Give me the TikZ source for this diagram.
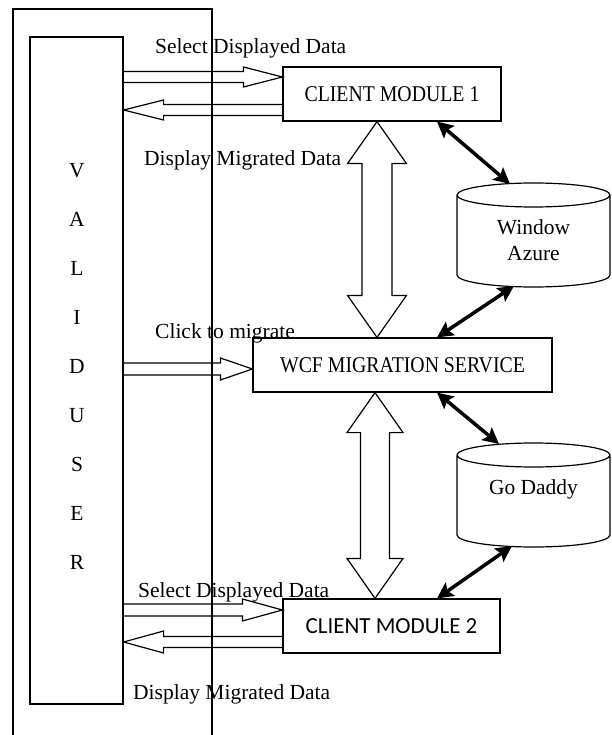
\documentclass[tikz,border=0pt]{standalone}
\usepackage{fontspec}
\setmainfont{Liberation Serif}
\newfontfamily\calib{Carlito}
\newfontfamily\camb[FakeStretch=0.88]{Liberation Serif}
\usetikzlibrary{calc,arrows.meta}

% hollow single block arrow: #1 start, #2 tip, #3 shaft half width, #4 head half width, #5 head length
\newcommand\blockarrow[5]{%
  \coordinate (bab) at ($(#2)!#5!(#1)$);
  \draw[blk] ($(#1)!#3!90:(#2)$) -- ($(bab)!#3!90:(#2)$) -- ($(bab)!#4!90:(#2)$) -- (#2)
     -- ($(bab)!#4!-90:(#2)$) -- ($(bab)!#3!-90:(#2)$) -- ($(#1)!#3!-90:(#2)$);
}
% hollow double block arrow: #1 tip A, #2 tip B, #3 shaft half, #4 head half, #5 head length
\newcommand\dblockarrow[5]{%
  \coordinate (dba) at ($(#1)!#5!(#2)$);
  \coordinate (dbb) at ($(#2)!#5!(#1)$);
  \draw[blk] (#1) -- ($(dba)!#4!90:(#2)$) -- ($(dba)!#3!90:(#2)$) -- ($(dbb)!#3!-90:(#1)$)
     -- ($(dbb)!#4!-90:(#1)$) -- (#2) -- ($(dbb)!#4!90:(#1)$) -- ($(dbb)!#3!90:(#1)$)
     -- ($(dba)!#3!-90:(#2)$) -- ($(dba)!#4!-90:(#2)$) -- cycle;
}
% cylinder outline: #1 centre x, #2 top y, #3 bottom y
\newcommand\drumshape[3]{%
  \draw[cyl] ({#1-76.5},{#2+12}) -- ({#1-76.5},{#3-12})
    arc[start angle=180,end angle=360,x radius=76.5pt,y radius=12pt]
    -- ({#1+76.5},{#2+12})
    arc[start angle=0,end angle=360,x radius=76.5pt,y radius=12pt];
}

\begin{document}
\begin{tikzpicture}[x=1pt,y=-1pt,
  box/.style={draw,line width=1.2pt,inner sep=0pt,minimum height=54pt},
  sansfont/.style={font=\calib\fontsize{23}{26}\selectfont},
  seriffont/.style={font=\camb\fontsize{22.5}{26}\selectfont},
  lbl/.style={inner sep=0pt,anchor=base west,font=\fontsize{21.5}{26}\selectfont},
  blk/.style={draw,line width=1.2pt,line join=miter},
  tarr/.style={line width=3.5pt,{Stealth[length=16pt,width=16pt,inset=3pt]}-{Stealth[length=16pt,width=16pt,inset=3pt]}},
  cyl/.style={line width=1.2pt}]
\useasboundingbox (0,0) rectangle (612,735);

% outer frame (open at the bottom)
\draw[line width=1.2pt] (13,735) -- (13,9) -- (212,9) -- (212,735);

% valid user column
\node[draw,line width=1.2pt,minimum width=93pt,minimum height=667pt,inner sep=0pt] (user) at (76.5,370.5) {};
\node[inner sep=0pt,anchor=north,align=center,font=\fontsize{21.5}{49}\selectfont] (uname) at (77,163) {V\\A\\L\\I\\D\\U\\S\\E\\R};

% boxes
\node[box,seriffont,minimum width=218pt] (cm1) at (392,94) {CLIENT MODULE 1};
\node[box,seriffont,minimum width=299pt] (wcf) at (402.5,365) {WCF MIGRATION SERVICE};
\node[box,sansfont,minimum width=217pt] (cm2) at (391.5,626) {CLIENT MODULE 2};

% cylinders
\drumshape{533.5}{183}{287}
\node[inner sep=0pt,anchor=north,align=center,font=\fontsize{21.5}{26}\selectfont] (azure) at (533.5,219) {Window\\Azure};
\drumshape{533.5}{443}{547}
\node[inner sep=0pt,anchor=base,font=\fontsize{21.5}{26}\selectfont] (godaddy) at (533.5,494) {Go Daddy};

% levels
\coordinate (ys1) at (0,77);
\coordinate (yd1) at (0,110);
\coordinate (yc) at (0,369);
\coordinate (ys2) at (0,610);
\coordinate (yd2) at (0,642);
\coordinate (xv1) at (377,0);
\coordinate (xv2) at (375,0);
\coordinate (xt) at (437,0);

% horizontal hollow arrows
\blockarrow{user.east |- ys1}{cm1.west |- ys1}{5.5pt}{10pt}{39pt}
\blockarrow{cm1.west |- yd1}{user.east |- yd1}{5.5pt}{10pt}{40pt}
\blockarrow{user.east |- yc}{wcf.west |- yc}{6pt}{11pt}{32pt}
\blockarrow{user.east |- ys2}{cm2.west |- ys2}{6pt}{11pt}{40pt}
\blockarrow{cm2.west |- yd2}{user.east |- yd2}{5.5pt}{11pt}{40pt}

% vertical hollow double arrows
\dblockarrow{cm1.south -| xv1}{wcf.north -| xv1}{15pt}{29.5pt}{42pt}
\dblockarrow{wcf.south -| xv2}{cm2.north -| xv2}{14.5pt}{28pt}{40pt}

% thick double arrows
\coordinate (azT) at (510,184);
\coordinate (azB) at (514,286);
\coordinate (gdT) at (499,444);
\coordinate (gdB) at (512,546);
\draw[tarr] (cm1.south -| xt) -- (azT);
\draw[tarr] (azB) -- (wcf.north -| xt);
\draw[tarr] (wcf.south -| xt) -- (gdT);
\draw[tarr] (gdB) -- (cm2.north -| xt);

% labels
\node[lbl] (sel1) at (155,54) {Select Displayed Data};
\node[lbl] (dis1) at (144,166) {Display Migrated Data};
\node[lbl] (clk) at (155,338) {Click to migrate};
\node[lbl] (sel2) at (138,597) {Select Displayed Data};
\node[lbl] (dis2) at (133,699) {Display Migrated Data};
\end{tikzpicture}
\end{document}
